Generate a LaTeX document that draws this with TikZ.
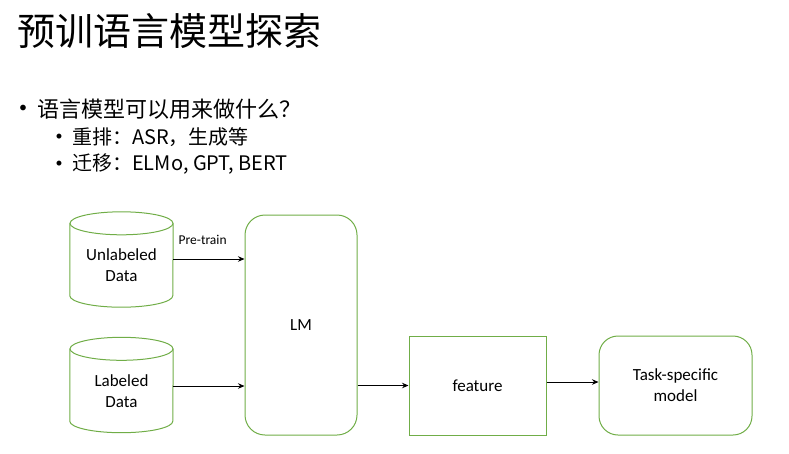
\documentclass[tikz,border=0pt]{standalone}
\usepackage{fontspec}
\setmainfont{Carlito}
\newfontfamily\cjk{Noto Sans CJK SC}
\usetikzlibrary{arrows.meta}
\definecolor{boxgreen}{HTML}{70AD47}
\begin{document}
\begin{tikzpicture}[x=1pt,y=-1pt,
  outline/.style={draw=boxgreen,line width=1pt},
  cylbody/.style={minimum width=103pt,minimum height=95pt,inner sep=0pt},
  lbl/.style={font=\fontsize{17}{21}\selectfont,align=center,inner sep=0pt},
  conn/.style={draw=black,line width=0.9pt,-{Stealth[length=6.5pt,width=5.5pt]}},
  bul/.style={inner sep=0pt,anchor=center},
  line1/.style={font=\cjk\fontsize{22}{26}\selectfont,inner sep=0pt,anchor=west},
  line2/.style={font=\cjk\fontsize{20}{24}\selectfont,inner sep=0pt,anchor=west}]
\useasboundingbox (0,0) rectangle (789,453);
% title and bullets
\node[font=\cjk\fontsize{38}{44}\selectfont,inner sep=0pt,anchor=west] (title) at (17,31) {预训语言模型探索};
\node[bul,font=\fontsize{16}{20}\selectfont] (b1) at (23,109) {•};
\node[line1] (t1) at (37,109) {语言模型可以用来做什么？};
\node[bul,font=\fontsize{14}{18}\selectfont] (b2) at (59,137) {•};
\node[line2] (t2) at (72,137) {重排：ASR，生成等};
\node[bul,font=\fontsize{14}{18}\selectfont] (b3) at (59,164) {•};
\node[line2] (t3) at (72,164) {迁移：ELMo, GPT, BERT};
% cylinders
\node[cylbody] (u) at (121.5,259.5) {};
\draw[outline] ([yshift=-11.5pt]u.north west) -- ([yshift=11.5pt]u.south west)
  arc[start angle=180,end angle=360,x radius=51.5pt,y radius=11.5pt]
  -- ([yshift=-11.5pt]u.north east);
\draw[outline] ([yshift=-11.5pt]u.north) ellipse[x radius=51.5pt,y radius=11.5pt];
\node[lbl] (ut) at (121.5,265.5) {Unlabeled\\Data};
\node[cylbody] (l) at (121.5,385) {};
\draw[outline] ([yshift=-11.5pt]l.north west) -- ([yshift=11.5pt]l.south west)
  arc[start angle=180,end angle=360,x radius=51.5pt,y radius=11.5pt]
  -- ([yshift=-11.5pt]l.north east);
\draw[outline] ([yshift=-11.5pt]l.north) ellipse[x radius=51.5pt,y radius=11.5pt];
\node[lbl] (lt) at (121.5,391.5) {Labeled\\Data};
% boxes
\node[outline,lbl,rounded corners=20pt,minimum width=112pt,minimum height=220pt] (lm) at (301,325) {LM};
\node[outline,lbl,minimum width=137pt,minimum height=99pt] (f) at (477.5,385.5) {feature};
\node[outline,lbl,rounded corners=19pt,minimum width=153pt,minimum height=99pt] (t) at (675.5,385.5) {Task-specific\\model};
% connector end points
\coordinate (ua) at ([yshift=0.5pt]u.east);
\coordinate (la) at ([yshift=-1pt]l.east);
\coordinate (fa) at ([yshift=3.5pt]f.east);
% connectors
\draw[conn] (ua) -- node[pos=0,anchor=west,inner sep=0pt,xshift=5pt,yshift=19pt,font=\fontsize{13.5}{16}\selectfont] (pt) {Pre-train} (lm.west |- ua);
\draw[conn] (la) -- (lm.west |- la);
\draw[conn] (lm.east |- f.west) -- (f.west);
\draw[conn] (fa) -- (t.west |- fa);
\end{tikzpicture}
\end{document}
